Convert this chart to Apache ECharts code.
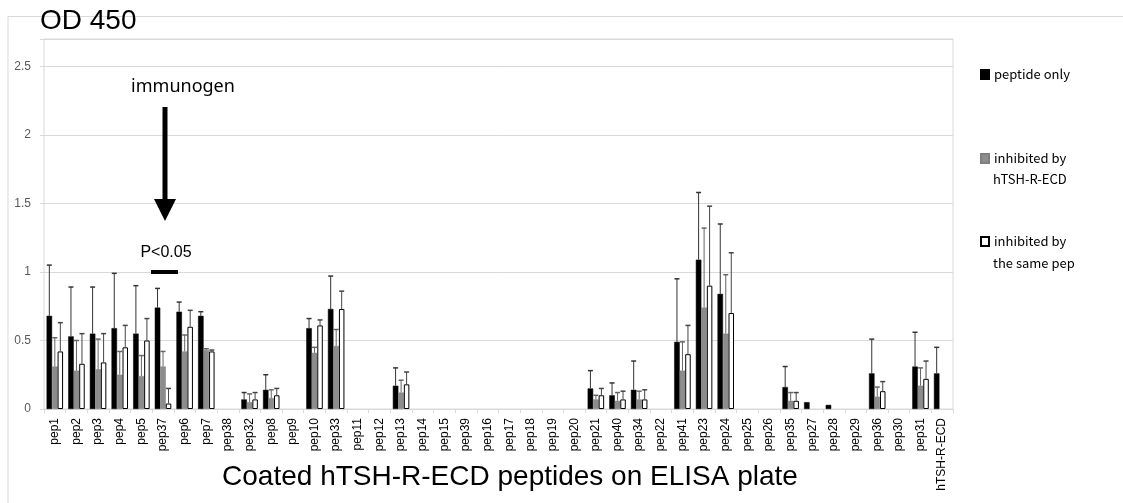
<!DOCTYPE html>
<html>
<head>
<meta charset="utf-8">
<script src="https://cdn.jsdelivr.net/npm/echarts@6/dist/echarts.min.js"></script>
<style>html,body{margin:0;padding:0;background:#fff;}#c{width:1123px;height:503px;}</style>
</head>
<body>
<div id="c"></div>
<script>
const categories = ['pep1','pep2','pep3','pep4','pep5','pep37','pep6','pep7','pep38','pep32','pep8','pep9','pep10','pep33','pep11','pep12','pep13','pep14','pep15','pep39','pep16','pep17','pep18','pep19','pep20','pep21','pep40','pep34','pep22','pep41','pep23','pep24','pep25','pep26','pep35','pep27','pep28','pep29','pep36','pep30','pep31','hTSH-R-ECD'];

const peptideOnly =   [0.68,0.53,0.55,0.59,0.55,0.74,0.71,0.68,null,0.07,0.14,null,0.59,0.73,null,null,0.17,null,null,null,null,null,null,null,null,0.15,0.10,0.14,null,0.49,1.09,0.84,null,null,0.16,0.05,0.03,null,0.26,null,0.31,0.26];
const peptideOnlyErrTop = [1.05,0.89,0.89,0.99,0.90,0.88,0.78,0.71,null,0.12,0.25,null,0.66,0.97,null,null,0.30,null,null,null,null,null,null,null,null,0.28,0.19,0.35,null,0.95,1.58,1.35,null,null,0.31,null,null,null,0.51,null,0.56,0.45];

const inhibitedECD =  [0.31,0.28,0.29,0.25,0.24,0.31,0.42,0.43,null,0.05,0.08,null,0.41,0.46,null,null,0.12,null,null,null,null,null,null,null,null,0.07,0.06,0.07,null,0.28,0.74,0.55,null,null,0.06,null,null,null,0.09,null,0.17,null];
const inhibitedECDErrTop = [0.52,0.50,0.51,0.42,0.39,0.42,0.54,0.44,null,0.11,0.14,null,0.45,0.58,null,null,0.21,null,null,null,null,null,null,null,null,0.10,0.12,0.13,null,0.49,1.32,0.98,null,null,0.12,null,null,null,0.16,null,0.30,null];

const inhibitedSame = [0.42,0.33,0.34,0.45,0.50,0.04,0.60,0.42,null,0.07,0.10,null,0.61,0.73,null,null,0.18,null,null,null,null,null,null,null,null,0.10,0.07,0.07,null,0.40,0.90,0.70,null,null,0.06,null,null,null,0.13,null,0.22,null];
const inhibitedSameErrTop = [0.63,0.55,0.55,0.61,0.66,0.15,0.72,0.43,null,0.12,0.15,null,0.65,0.86,null,null,0.27,null,null,null,null,null,null,null,null,0.15,0.13,0.14,null,0.61,1.48,1.14,null,null,0.12,null,null,null,0.20,null,0.35,null];

const yTicks = [0, 0.5, 1, 1.5, 2, 2.5];
const seriesNames = ['peptide only', 'inhibited by hTSH-R-ECD', 'inhibited by the same pep'];

const BAR_W = 5.5;

function errData(vals, tops) {
  const out = [];
  vals.forEach((v, i) => { if (v != null && tops[i] != null) out.push([i, v, tops[i]]); });
  return out;
}
function errSeries(vals, tops, k, color) {
  return {
    type: 'custom', name: 'err' + k, z: 5, silent: true,
    data: errData(vals, tops),
    renderItem: function (params, api) {
      const i = api.value(0);
      const b = api.coord([i, api.value(1)]);
      const t = api.coord([i, api.value(2)]);
      const x = b[0] + (k - 1) * BAR_W;
      return {
        type: 'group',
        children: [
          { type: 'line', shape: { x1: x, y1: b[1], x2: x, y2: t[1] }, style: { stroke: color, lineWidth: 1 } },
          { type: 'line', shape: { x1: x - 2.5, y1: t[1], x2: x + 2.5, y2: t[1] }, style: { stroke: color, lineWidth: 1.5 } }
        ]
      };
    }
  };
}

const chart = echarts.init(document.getElementById('c'), null, { renderer: 'canvas' });
const legendText = { fontSize: 13, color: '#000', fontFamily: 'Noto Sans CJK JP' };
const legendBase = { left: 980, padding: 0, icon: 'rect', itemWidth: 8, itemHeight: 9, textStyle: legendText };
chart.setOption({
  animation: false,
  backgroundColor: '#fff',
  grid: { left: 44, top: 39, width: 909, height: 370, show: true, borderColor: '#d9d9d9', borderWidth: 1 },
  xAxis: {
    type: 'category', data: categories,
    axisLine: { lineStyle: { color: '#d9d9d9' } },
    axisTick: { show: true, length: 4, lineStyle: { color: '#d9d9d9' } },
    axisLabel: { rotate: 90, interval: 0, fontSize: 12, color: '#000', margin: 9, fontFamily: 'Liberation Sans' }
  },
  yAxis: {
    type: 'value', min: 0, max: 2.7, interval: 0.5,
    axisLine: { show: false },
    axisTick: { show: true, length: 4, lineStyle: { color: '#d9d9d9' } },
    splitLine: { lineStyle: { color: '#d9d9d9' } },
    axisLabel: {
      margin: 13, fontSize: 12, color: '#595959', fontFamily: 'Liberation Sans',
      formatter: function (v) { return yTicks.indexOf(Math.round(v * 10) / 10) >= 0 && Math.abs(v * 2 - Math.round(v * 2)) < 1e-6 ? String(v) : ''; }
    }
  },
  legend: [
    Object.assign({ data: [seriesNames[0]], top: 68, formatter: () => 'peptide only' }, legendBase),
    Object.assign({ data: [seriesNames[1]], top: 152, formatter: () => 'inhibited by' }, legendBase),
    Object.assign({ data: [seriesNames[2]], top: 235, formatter: () => 'inhibited by' }, legendBase)
  ],
  graphic: [
    { type: 'polyline', z: 100, shape: { points: [[8, 503], [8, 16.5], [1123, 16.5]] }, style: { stroke: '#d9d9d9', lineWidth: 1, fill: null }, silent: true },
    { type: 'text', z: 100, left: 40, top: 7, style: { text: 'OD 450', fontSize: 28, fill: '#000', fontFamily: 'Liberation Sans' } },
    { type: 'text', z: 100, x: 510, y: 477, style: { text: 'Coated hTSH-R-ECD peptides on ELISA plate', fontSize: 28, fill: '#000', fontFamily: 'Liberation Sans', align: 'center', verticalAlign: 'middle' } },
    { type: 'text', z: 100, x: 183, y: 87, style: { text: 'immunogen', fontSize: 18, fill: '#000', fontFamily: 'Noto Sans', align: 'center', verticalAlign: 'middle' } },
    { type: 'rect', z: 100, shape: { x: 162.5, y: 107, width: 5, height: 94 }, style: { fill: '#000' } },
    { type: 'polygon', z: 100, shape: { points: [[154, 199], [176, 199], [165, 221]] }, style: { fill: '#000' } },
    { type: 'text', z: 100, x: 166, y: 253, style: { text: 'P<0.05', fontSize: 16, fill: '#000', fontFamily: 'Liberation Sans', align: 'center', verticalAlign: 'middle' } },
    { type: 'rect', z: 100, shape: { x: 151, y: 270, width: 27, height: 4 }, style: { fill: '#000' } },
    { type: 'text', z: 100, x: 993, y: 179, style: { text: 'hTSH-R-ECD', fontSize: 13, fill: '#000', fontFamily: 'Noto Sans CJK JP', verticalAlign: 'middle' } },
    { type: 'text', z: 100, x: 993, y: 263, style: { text: 'the same pep', fontSize: 13, fill: '#000', fontFamily: 'Noto Sans CJK JP', verticalAlign: 'middle' } }
  ],
  series: [
    { type: 'bar', name: seriesNames[0], data: peptideOnly, barWidth: BAR_W, barGap: '0%', itemStyle: { color: '#000', borderColor: '#000', borderWidth: 0.5 } },
    { type: 'bar', name: seriesNames[1], data: inhibitedECD, barWidth: BAR_W, barGap: '0%', itemStyle: { color: '#8c8c8c', borderColor: '#7f7f7f', borderWidth: 0.5 } },
    { type: 'bar', name: seriesNames[2], data: inhibitedSame, barWidth: BAR_W, barGap: '0%', itemStyle: { color: '#fff', borderColor: '#000', borderWidth: 1 } },
    errSeries(peptideOnly, peptideOnlyErrTop, 0, '#333'),
    errSeries(inhibitedECD, inhibitedECDErrTop, 1, '#666'),
    errSeries(inhibitedSame, inhibitedSameErrTop, 2, '#444')
  ]
});
</script>
</body>
</html>
